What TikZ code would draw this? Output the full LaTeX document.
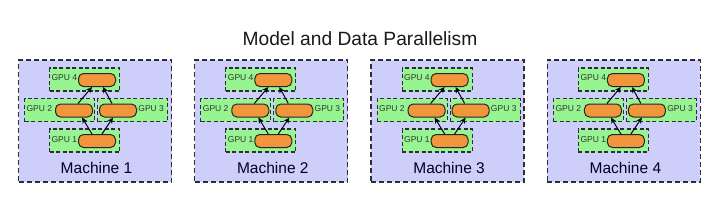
\documentclass[tikz,border=0pt]{standalone}
\usepackage{fontspec}
\setmainfont{Liberation Sans}
\usetikzlibrary{arrows.meta}
\definecolor{machinefill}{RGB}{206,206,250}
\definecolor{gpufill}{RGB}{150,245,145}
\definecolor{chipfill}{RGB}{242,150,60}
\definecolor{edgegray}{RGB}{45,45,55}
\tikzset{
  machine/.style={draw=edgegray,fill=machinefill,dash pattern=on 5pt off 3pt,line width=1.3pt,
    minimum width=153pt,minimum height=122pt,inner sep=0pt},
  gpubox/.style={draw=edgegray,fill=gpufill,dash pattern=on 4pt off 2.5pt,line width=1.2pt,
    minimum width=70pt,minimum height=23pt,inner sep=0pt},
  chip/.style={draw=black!85,fill=chipfill,rounded corners=5pt,line width=1pt,
    minimum width=37pt,minimum height=13pt,inner sep=0pt},
  gpulabel/.style={font=\fontsize{8.5}{9}\selectfont,text=black!80,inner sep=0pt},
  flow/.style={-{Stealth[length=6pt,width=5.5pt]},line width=1pt,draw=black!90!blue}
}
\begin{document}
\begin{tikzpicture}[x=1pt,y=-1pt]
\useasboundingbox[fill=white] (0,0) rectangle (720,202);
\node[font=\fontsize{19.2}{22}\selectfont,text=black!90] (title) at (360,38.5) {Model and Data Parallelism};
\foreach \m in {1,...,4}{
  \pgfmathsetmacro{\xo}{18.5+176.3*(\m-1)}
  \node[machine] (m\m) at (\xo+76.5,121) {};
  % GPU boxes
  \node[gpubox] (m\m-g4) at (\xo+66,79.5) {};
  \node[gpubox] (m\m-g2) at (\xo+41,110) {};
  \node[gpubox] (m\m-g3) at (\xo+114,110) {};
  \node[gpubox] (m\m-g1) at (\xo+66,140.5) {};
  \node[gpulabel,anchor=west] (m\m-l4) at ([xshift=2.5pt,yshift=1.5pt]m\m-g4.west) {GPU 4};
  \node[gpulabel,anchor=west] (m\m-l2) at ([xshift=2.5pt,yshift=1pt]m\m-g2.west) {GPU 2};
  \node[gpulabel,anchor=east] (m\m-l3) at ([xshift=-4pt,yshift=1pt]m\m-g3.east) {GPU 3};
  \node[gpulabel,anchor=west] (m\m-l1) at ([xshift=2.5pt,yshift=1pt]m\m-g1.west) {GPU 1};
  % chips
  \node[chip] (m\m-c4) at (\xo+78.5,80) {};
  \node[chip] (m\m-c2) at (\xo+55.5,110.5) {};
  \node[chip] (m\m-c3) at (\xo+99.5,110.5) {};
  \node[chip] (m\m-c1) at (\xo+78.5,141) {};
  \draw[flow] ([xshift=-5pt]m\m-c1.north) -- ([xshift=8pt]m\m-c2.south);
  \draw[flow] ([xshift=5pt]m\m-c1.north) -- ([xshift=-5pt]m\m-c3.south);
  \draw[flow] ([xshift=4pt]m\m-c2.north) -- ([xshift=-5pt]m\m-c4.south);
  \draw[flow] ([xshift=-6pt]m\m-c3.north) -- ([xshift=6pt]m\m-c4.south);
  \node[font=\fontsize{15.5}{18}\selectfont,text=black!85!blue] (m\m-name) at (\xo+78,168) {Machine \m};
}
\end{tikzpicture}
\end{document}
